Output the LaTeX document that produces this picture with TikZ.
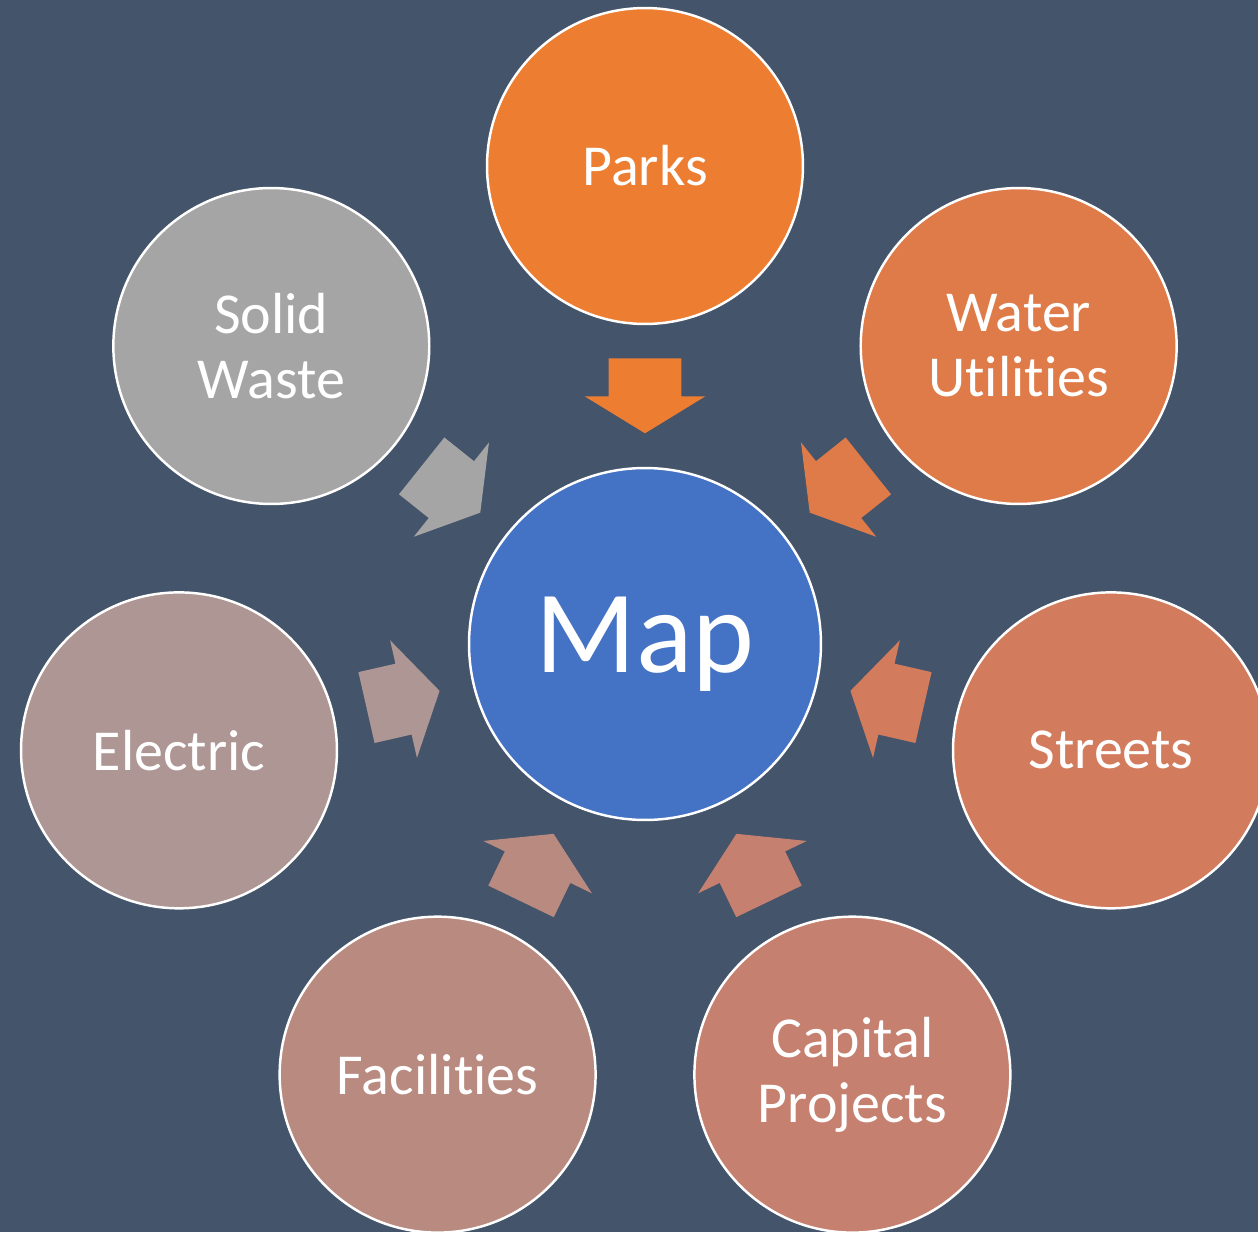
\documentclass[tikz,border=0pt]{standalone}
\usepackage{fontspec}
\setmainfont{Carlito}[Ligatures=NoCommon]
\usetikzlibrary{shapes.arrows}

\definecolor{slate}{HTML}{44546A}
\definecolor{mapblue}{HTML}{4472C4}
\definecolor{parkscol}{HTML}{ED7D31}
\definecolor{watercol}{HTML}{DF7B48}
\definecolor{streetscol}{HTML}{D27B5D}
\definecolor{capitalcol}{HTML}{C5806F}
\definecolor{facilcol}{HTML}{B98A80}
\definecolor{electriccol}{HTML}{AD9693}
\definecolor{wastecol}{HTML}{A5A5A5}

\begin{document}
\begin{tikzpicture}[x=0.02cm,y=0.02cm,
    hub/.style={circle,draw=white,line width=1.4pt,minimum size=7.04cm,
      inner sep=0pt,text=white,font=\fontsize{67}{78}\selectfont},
    spoke/.style={circle,draw=white,line width=1.4pt,minimum size=6.32cm,
      inner sep=0pt,text=white,align=center,font=\fontsize{33}{37}\selectfont},
    feed/.style={single arrow,draw=none,inner xsep=0pt,inner ysep=0.72cm,
      minimum height=1.5cm,minimum width=2.4cm,
      single arrow head extend=0.48cm,single arrow tip angle=117,
      sloped,allow upside down,pos=0.42}]
  \fill[slate] (-645,-588) rectangle (613,644);
  \useasboundingbox (-645,-588) rectangle (613,644);
  \draw
    (0,0) node[hub,fill=mapblue] (map){Map}
    (90.000:478) node[spoke,fill=parkscol] (parks){Parks}
    (38.571:478) node[spoke,fill=watercol] (water){Water\\Utilities}
    (-12.857:478) node[spoke,fill=streetscol] (streets){Streets}
    (-64.286:478) node[spoke,fill=capitalcol] (capital){Capital\\Projects}
    (-115.714:478) node[spoke,fill=facilcol] (facilities){Facilities}
    (-167.143:478) node[spoke,fill=electriccol] (electric){Electric}
    (141.429:478) node[spoke,fill=wastecol] (waste){Solid\\Waste};
  % block arrows into the hub
  \path (parks) to node[feed,fill=parkscol]{} (map);
  \path (water) to node[feed,fill=watercol]{} (map);
  \path (streets) to node[feed,fill=streetscol]{} (map);
  \path (capital) to node[feed,fill=capitalcol]{} (map);
  \path (facilities) to node[feed,fill=facilcol]{} (map);
  \path (electric) to node[feed,fill=electriccol]{} (map);
  \path (waste) to node[feed,fill=wastecol]{} (map);
\end{tikzpicture}
\end{document}
